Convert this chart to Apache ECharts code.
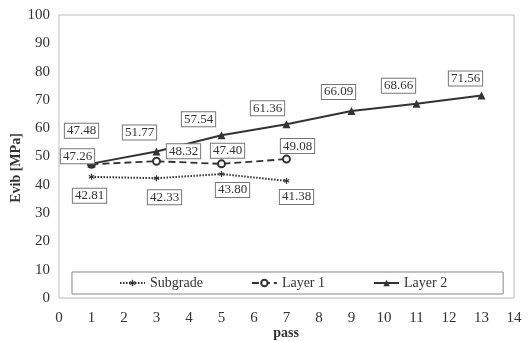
<!DOCTYPE html>
<html>
<head>
  <meta charset="utf-8">
  <title>Evib vs pass</title>
  <script src="https://cdn.jsdelivr.net/npm/echarts@6/dist/echarts.min.js"></script>
  <style>
    body { margin: 0; background: #fff; }
    #chart { width: 531px; height: 341px; }
  </style>
</head>
<body>
  <div id="chart"></div>
  <script>
    // data
    const subgradePass = [1, 3, 5, 7];
    const subgradeEvib = [42.81, 42.33, 43.80, 41.38];
    const layer1Pass = [1, 3, 5, 7];
    const layer1Evib = [47.26, 48.32, 47.40, 49.08];
    const layer2Pass = [1, 3, 5, 7, 9, 11, 13];
    const layer2Evib = [47.48, 51.77, 57.54, 61.36, 66.09, 68.66, 71.56];
    const xTitle = 'pass';
    const yTitle = 'Evib [MPa]';

    // label box placement relative to each point
    const subgradeOff = [[-2, 19], [8, 19], [11, 16], [10, 16]];
    const layer1Off = [[-14, -8], [27, -10], [6, -13], [11, -13]];
    const layer2Off = [[-10, -33], [-17, -19], [-23, -16], [-19, -16], [-13, -19], [-18, -18], [-16, -17]];

    const FONT = 'Liberation Serif';
    const INK = '#333';
    // small asterisk marker for the subgrade series
    const STAR = 'path://M4,0L6,0L6,3.5L9,2L10,3.7L7,5L10,6.3L9,8L6,6.5L6,10L4,10L4,6.5L1,8L0,6.3L3,5L0,3.7L1,2L4,3.5Z';

    function points(xs, ys, offs) {
      return xs.map((x, i) => ({
        value: [x, ys[i]],
        label: { offset: offs[i] }
      }));
    }

    const boxLabel = {
      show: true,
      position: 'inside',
      formatter: p => p.value[1].toFixed(2),
      fontFamily: FONT,
      fontSize: 13,
      color: INK,
      backgroundColor: '#fff',
      borderColor: '#777',
      borderWidth: 1,
      padding: [1, 2, 0, 2]
    };

    const titleStyle = {
      fontFamily: FONT, fontSize: 14, fontWeight: 'bold', fill: INK,
      textAlign: 'center', textVerticalAlign: 'middle'
    };

    const chart = echarts.init(document.getElementById('chart'));
    chart.setOption({
      backgroundColor: '#fff',
      animation: false,
      grid: {
        left: 59, right: 17, top: 15, bottom: 43,
        outerBoundsMode: 'none',
        containLabel: false,
        show: true, borderColor: '#bbb', borderWidth: 1
      },
      graphic: [
        { type: 'text', x: 286, y: 333, style: Object.assign({ text: xTitle }, titleStyle) },
        { type: 'text', x: 16, y: 168, rotation: Math.PI / 2, style: Object.assign({ text: yTitle }, titleStyle) }
      ],
      legend: {
        left: 72, top: 272,
        padding: [4, 56, 4, 47],
        itemGap: 48,
        itemWidth: 25,
        itemHeight: 8,
        borderColor: '#888', borderWidth: 1,
        backgroundColor: '#fff',
        textStyle: { fontFamily: FONT, fontSize: 14, color: INK },
        data: ['Subgrade', 'Layer 1', 'Layer 2']
      },
      xAxis: {
        type: 'value', min: 0, max: 14, interval: 1,
        axisLine: { show: false },
        axisTick: { show: false },
        splitLine: { show: false },
        axisLabel: { fontFamily: FONT, fontSize: 15, color: INK, margin: 13 }
      },
      yAxis: {
        type: 'value', min: 0, max: 100, interval: 10,
        axisLine: { show: false },
        axisTick: { show: false },
        splitLine: { show: false },
        axisLabel: { fontFamily: FONT, fontSize: 15, color: INK, margin: 9 }
      },
      series: [
        {
          name: 'Subgrade', type: 'line',
          data: points(subgradePass, subgradeEvib, subgradeOff),
          symbol: STAR, symbolSize: 6,
          lineStyle: { color: '#333', width: 2, type: [1.5, 1.5] },
          itemStyle: { color: '#333' },
          label: boxLabel
        },
        {
          name: 'Layer 1', type: 'line',
          data: points(layer1Pass, layer1Evib, layer1Off),
          symbol: 'emptyCircle', symbolSize: 7,
          lineStyle: { color: '#333', width: 1.8, type: [7, 4] },
          itemStyle: { color: '#333', borderWidth: 1 },
          label: boxLabel
        },
        {
          name: 'Layer 2', type: 'line',
          data: points(layer2Pass, layer2Evib, layer2Off),
          symbol: 'triangle', symbolSize: 8,
          lineStyle: { color: '#333', width: 2 },
          itemStyle: { color: '#333' },
          label: boxLabel
        }
      ]
    });
  </script>
</body>
</html>
